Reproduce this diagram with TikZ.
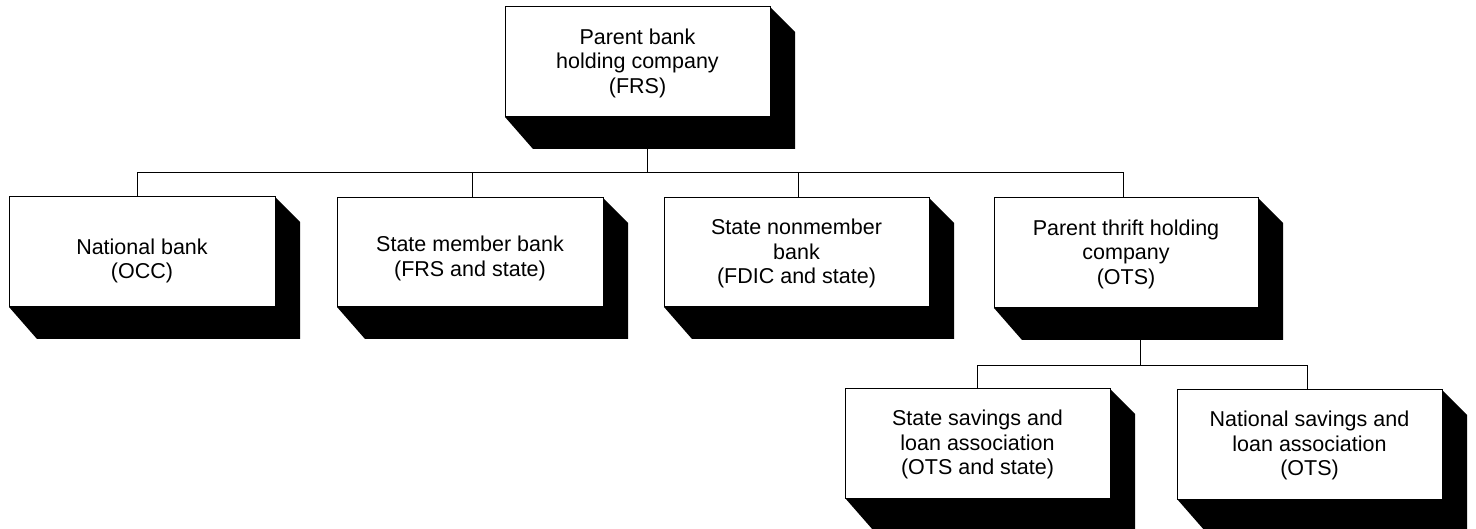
\documentclass[tikz,border=0pt]{standalone}
\usepackage{fontspec}
\setmainfont{Liberation Sans}
\usetikzlibrary{calc,backgrounds}
\tikzset{
  bx/.style={draw=black, fill=white, line width=1pt, inner sep=0pt, outer sep=0pt},
  txt/.style={align=center, inner sep=0pt, font=\fontsize{21.5}{24.5}\selectfont},
  conn/.style={draw=black, line width=1pt},
  shd/.style={fill=black}
}
\newcommand\shadowfor[1]{%
  \fill[shd] (#1.south west) -- ++(28,-32) -- ($(#1.south east)+(25,-32)$) --
    ($(#1.north east)+(25,-25)$) -- (#1.north east) -- (#1.south east) -- cycle;}
\begin{document}
\begin{tikzpicture}[x=1pt,y=1pt]
\useasboundingbox (0,0) rectangle (1476,-529);
% boxes
\node[bx, minimum width=265, minimum height=110] (A) at (637.5,-62) {};
\node[bx, minimum width=266, minimum height=110] (B) at (142,-252) {};
\node[bx, minimum width=266, minimum height=109] (C) at (470,-252.5) {};
\node[bx, minimum width=265, minimum height=109] (D) at (796.5,-252.5) {};
\node[bx, minimum width=264, minimum height=110] (E) at (1126,-253) {};
\node[bx, minimum width=265, minimum height=109] (F) at (977.5,-443.5) {};
\node[bx, minimum width=265, minimum height=109] (G) at (1309.5,-444.5) {};
% texts
\node[txt] (At) at ([yshift=-1]A.center) {Parent bank\\holding company\\(FRS)};
\node[txt] (Bt) at ([yshift=-9]B.center) {National bank\\(OCC)};
\node[txt] (Ct) at ([yshift=-6]C.center) {State member bank\\(FRS and state)};
\node[txt] (Dt) at ([yshift=-1]D.center) {State nonmember\\bank\\(FDIC and state)};
\node[txt] (Et) at ([yshift=-1]E.center) {Parent thrift holding\\company\\(OTS)};
\node[txt] (Ft) at ([yshift=-1]F.center) {State savings and\\loan association\\(OTS and state)};
\node[txt] (Gt) at ([yshift=-1]G.center) {National savings and\\loan association\\(OTS)};
% shadows
\begin{scope}[on background layer]
\shadowfor{A}\shadowfor{B}\shadowfor{C}\shadowfor{D}\shadowfor{E}\shadowfor{F}\shadowfor{G}
\end{scope}
% connectors
\coordinate (Abot) at ([xshift=9.5,yshift=-32]A.south);
\coordinate (bus1) at ([yshift=-24]Abot);
\coordinate (Ebot) at ([xshift=14,yshift=-32]E.south);
\coordinate (bus2) at ([yshift=-26]Ebot);
\draw[conn] (Abot) -- (bus1);
\draw[conn] ([xshift=-5]B.north) |- (bus1);
\draw[conn] ([xshift=2]C.north) |- (bus1);
\draw[conn] ([xshift=1.5]D.north) |- (bus1);
\draw[conn] ([xshift=-3]E.north) |- (bus1);
\draw[conn] (Ebot) -- (bus2);
\draw[conn] (F.north) |- (bus2);
\draw[conn] ([xshift=-2.5]G.north) |- (bus2);
\end{tikzpicture}
\end{document}
